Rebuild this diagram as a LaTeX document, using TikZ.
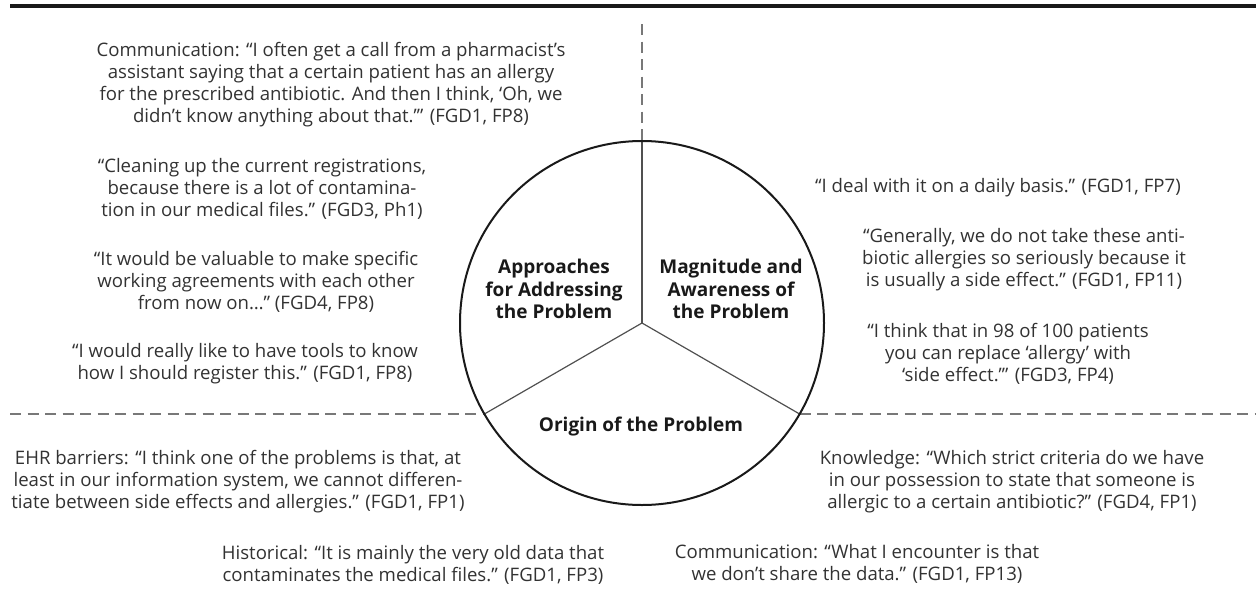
\documentclass[tikz,border=0pt]{standalone}
\usepackage{fontspec}
\setmainfont{Open Sans}
\usetikzlibrary{calc}
\definecolor{txt}{RGB}{50,50,50}
\definecolor{lbl}{RGB}{25,25,25}
\definecolor{dashc}{RGB}{120,120,120}
\definecolor{spoke}{RGB}{80,80,80}
\begin{document}
\begin{tikzpicture}[x=1pt,y=-1pt,
  quote/.style={align=center, text=txt, font=\fontsize{18.6}{22}\selectfont, inner sep=0pt},
  lbl/.style={align=center, text=lbl, font=\bfseries\fontsize{19}{22.5}\selectfont, inner sep=0pt},
  divider/.style={draw=dashc, line width=1.8pt, dash pattern=on 11pt off 6.5pt},
  spokeline/.style={draw=spoke, line width=1.2pt},
  rim/.style={draw=lbl, line width=2pt}]
\useasboundingbox (0,0) rectangle (1256,600);
% top rule
\coordinate (tl) at (10,6);
\coordinate (tr) at (1256,6);
\draw[line width=3.5pt, draw=lbl] (tl) -- (tr);
% circle
\coordinate (c) at (642,323);
\coordinate (top) at ($(c)+(0,-182)$);
\coordinate (sl) at ($(c)+(-157.6,91)$);
\coordinate (sr) at ($(c)+(157.6,91)$);
% dashed dividers
\coordinate (vtop) at (642,24);
\coordinate (hl) at (10,414);
\coordinate (hr) at (1256,414);
\draw[divider] (vtop) -- (top);
\draw[divider] (hl) -- (sl);
\draw[divider] (sr) -- (hr);
% spokes
\draw[spokeline] (c) -- (top);
\draw[spokeline] (c) -- (sl);
\draw[spokeline] (c) -- (sr);
\draw[rim] (c) circle[radius=182];
% labels in circle
\node[lbl] (approach) at (554,289) {Approaches\\for Addressing\\the Problem};
\node[lbl] (magnitude) at (731,289) {Magnitude and\\Awareness of\\the Problem};
\node[lbl] (origin) at (641,427) {Origin of the Problem};
% left quotes
\node[quote] (q1) at (331,85) {Communication: “I often get a call from a pharmacist’s\\assistant saying that a certain patient has an allergy\\for the prescribed antibiotic. And then I think, ‘Oh, we\\didn’t know anything about that.’” (FGD1, FP8)};
\node[quote] (q2) at (262,189) {“Cleaning up the current registrations,\\because there is a lot of contamina-\\tion in our medical files.” (FGD3, Ph1)};
\node[quote] (q3) at (256,282) {“It would be valuable to make specific\\working agreements with each other\\from now on…” (FGD4, FP8)};
\node[quote] (q4) at (245,364) {“I would really like to have tools to know\\how I should register this.” (FGD1, FP8)};
% right quotes
\node[quote] (r1) at (998,188) {“I deal with it on a daily basis.” (FGD1, FP7)};
\node[quote] (r2) at (1024,260) {“Generally, we do not take these anti-\\biotic allergies so seriously because it\\is usually a side effect.” (FGD1, FP11)};
\node[quote] (r3) at (1008,354) {“I think that in 98 of 100 patients\\you can replace ‘allergy’ with\\‘side effect.’” (FGD3, FP4)};
% bottom quotes
\node[quote] (b1) at (238,482) {EHR barriers: “I think one of the problems is that, at\\least in our information system, we cannot differen-\\tiate between side effects and allergies.” (FGD1, FP1)};
\node[quote] (b2) at (413,565) {Historical: “It is mainly the very old data that\\contaminates the medical files.” (FGD1, FP3)};
\node[quote] (b3) at (1012,482) {Knowledge: “Which strict criteria do we have\\in our possession to state that someone is\\allergic to a certain antibiotic?” (FGD4, FP1)};
\node[quote] (b4) at (857,564) {Communication: “What I encounter is that\\we don’t share the data.” (FGD1, FP13)};
\end{tikzpicture}
\end{document}
